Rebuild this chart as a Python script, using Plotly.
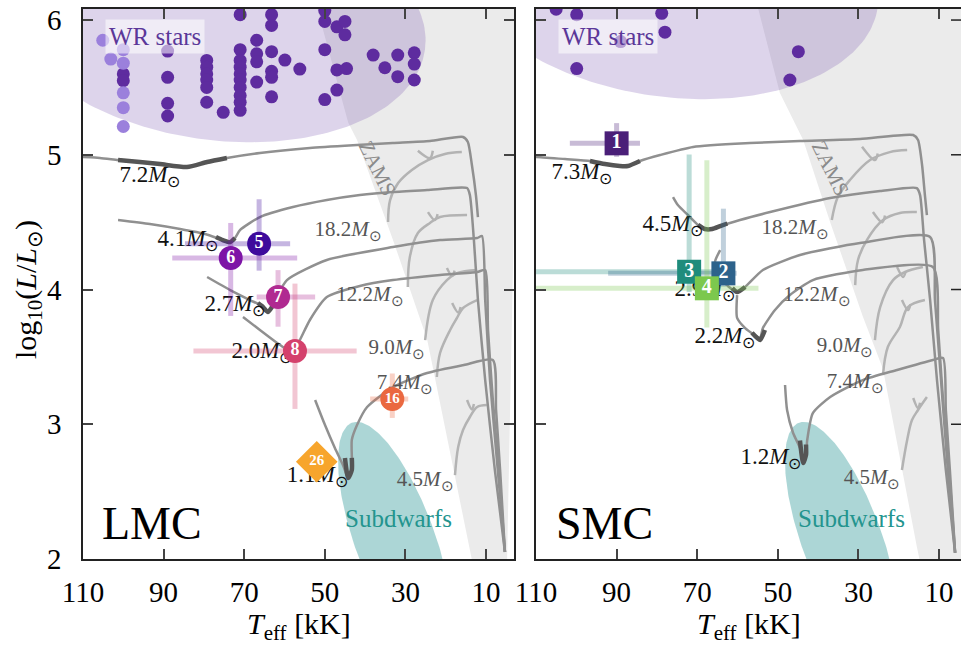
import numpy as np
import plotly.graph_objects as go

FONT = "Liberation Serif"

# ---------------- WR stars (Teff [kK], log L/Lsun) ----------------
lmc_wr_teff = [100.0, 100.0, 89.0, 89.0, 89.0, 89.0, 79.3, 79.3, 79.3, 79.3, 79.3, 79.3, 75.2,
               71.0, 71.0, 71.0, 71.0, 71.0, 71.0, 71.0, 71.0, 71.0, 71.0,
               66.9, 66.9, 66.9, 66.9, 63.2, 63.2, 63.2, 63.2, 63.2, 63.2, 59.9, 56.2,
               50.0, 50.0, 50.0, 50.0, 47.0, 47.0, 47.0, 45.0, 45.0, 44.6,
               38.0, 35.1, 31.9, 31.9, 27.8, 27.8, 27.8]
lmc_wr_logl = [5.60, 5.55, 5.77, 5.575, 5.382, 5.288, 5.70, 5.65, 5.60, 5.555, 5.50, 5.39, 5.315,
               6.04, 5.78, 5.70, 5.65, 5.60, 5.555, 5.50, 5.44, 5.39, 5.33,
               5.85, 5.75, 5.69, 5.54, 6.04, 5.96, 5.765, 5.62, 5.575, 5.43, 5.703, 5.636,
               6.07, 5.99, 5.78, 5.41, 5.95, 5.63, 5.48, 5.99, 5.89, 5.64,
               5.74, 5.646, 5.74, 5.58, 5.757, 5.673, 5.555]
lmc_wr_pale_teff = [105.1, 103.1, 100.0, 100.0, 100.0, 100.0, 100.0]
lmc_wr_pale_logl = [5.85, 5.71, 5.78, 5.68, 5.46, 5.35, 5.21]
smc_wr_teff = [105.0, 99.9, 78.8, 78.0, 99.9, 89.0, 44.9, 47.0]
smc_wr_logl = [6.08, 6.04, 6.05, 5.91, 5.64, 5.84, 5.765, 5.555]

# ---------------- Observed stripped stars ----------------
lmc_ids = ["5", "6", "7", "8", "16"]
lmc_teff = [66.3, 73.35, 61.6, 57.4, 33.25]
lmc_logl = [4.34, 4.234, 3.944, 3.544, 3.187]
lmc_teff_hot = [18.4, 14.5, 5.3, 25.2, 5.5]
lmc_teff_cool = [7.7, 16.5, 9.2, 15.3, 3.95]
lmc_logl_up = [0.33, 0.26, 0.20, 0.50, 0.19]
lmc_logl_down = [0.20, 0.43, 0.22, 0.43, 0.14]
lmc_colors = ["#3e0a9c", "#7d14a6", "#b02a91", "#d4416c", "#ea6840"]

lmc_diamond_id = ["26"]
lmc_diamond_teff = [52.0]
lmc_diamond_logl = [2.722]
lmc_diamond_err_t = [4.6]
lmc_diamond_err_l = [0.12]
lmc_diamond_color = "#f7a52c"

smc_ids = ["1", "3", "2", "4"]
smc_teff = [90.0, 72.0, 63.5, 67.6]
smc_logl = [5.085, 4.132, 4.12, 4.009]
smc_teff_hot = [11.6, 50.0, 28.6, 50.0]
smc_teff_cool = [5.8, 6.7, 3.3, 12.8]
smc_logl_up = [0.15, 0.87, 0.48, 0.95]
smc_logl_down = [0.10, 0.15, 0.10, 0.29]
smc_colors = ["#4a1f78", "#1f8c7c", "#2d628b", "#7cc84e"]

# ---------------- Binary stripping tracks ----------------
lmc_tracks = [
    ([112, 110.0, 105.8, 101.3, 95.9, 90.9, 84.2, 79.2, 74.3, 66.1, 53.7, 42.0, 33.1, 23.9, 15.7, 14.5, 13.5, 12.5, 12.0],
     [4.98, 4.983, 4.976, 4.961, 4.946, 4.931, 4.909, 4.946, 4.976, 5.013, 5.050, 5.072, 5.087, 5.102, 5.132, 5.095, 4.924, 4.701, 4.538]),
    ([101.3, 93.4, 85.9, 79.7, 75.3, 73.5, 72.3, 71.0, 66.1, 57.9, 49.5, 41.3, 33.1, 24.6, 14.7, 14.0, 13.0, 12.0, 10.2, 7.8, 5.3],
     [4.516, 4.486, 4.449, 4.412, 4.367, 4.352, 4.382, 4.442, 4.538, 4.612, 4.664, 4.701, 4.724, 4.738, 4.753, 4.701, 4.367, 3.922, 3.328, 2.660, 2.052]),
    ([79.2, 73.5, 68.6, 65.6, 64.1, 62.4, 59.4, 49.5, 33.1, 21.4, 12.2, 11.0, 10.2, 9.0, 7.3, 5.3],
     [4.093, 3.996, 3.922, 3.878, 3.833, 3.922, 4.070, 4.219, 4.315, 4.367, 4.382, 4.397, 3.922, 3.328, 2.735, 2.052]),
    ([70.3, 66.1, 61.1, 58.1, 56.2, 53.7, 49.5, 41.3, 33.1, 21.4, 12.2, 10.2, 9.5, 8.3, 6.8, 5.3],
     [3.796, 3.700, 3.588, 3.536, 3.625, 3.774, 3.944, 4.026, 4.070, 4.108, 4.130, 4.145, 3.700, 3.180, 2.660, 2.052]),
    ([52.4, 49.95, 47.5, 45.5, 44.2, 43.3, 43.3, 42.0, 39.5, 33.1, 24.6, 15.5, 8.3, 7.5, 6.5, 5.3],
     [3.180, 2.994, 2.824, 2.698, 2.601, 2.660, 2.883, 2.994, 3.128, 3.276, 3.380, 3.440, 3.477, 3.106, 2.660, 2.052]),
]
lmc_thick = [
    ([101.3, 95.9, 90.9, 84.2, 79.2, 74.3], [4.961, 4.946, 4.931, 4.909, 4.946, 4.976]),
    ([77.0, 75.3, 73.5, 72.3], [4.39, 4.367, 4.352, 4.382]),
    ([66.6, 65.6, 64.1, 62.9], [3.90, 3.878, 3.833, 3.88]),
    ([60.0, 58.1, 56.8], [3.55, 3.536, 3.58]),
    ([45.0, 44.2, 43.3, 43.3], [2.75, 2.601, 2.66, 2.75]),
]
smc_tracks = [
    ([112, 110, 102.8, 96.6, 92.9, 89.2, 87.2, 84.2, 79.2, 71.0, 56.9, 44.5, 29.6, 16.4, 15.2, 14.2, 13.5, 13.0],
     [4.98, 4.983, 4.968, 4.954, 4.931, 4.917, 4.917, 4.954, 4.998, 5.058, 5.087, 5.102, 5.117, 5.147, 5.110, 4.924, 4.701, 4.553]),
    ([76.0, 74.8, 72.3, 69.8, 68.1, 66.3, 64.3, 59.4, 51.9, 37.0, 24.6, 15.5, 14.7, 13.7, 12.2, 10.5, 8.3, 6.0],
     [4.686, 4.627, 4.553, 4.479, 4.449, 4.449, 4.471, 4.516, 4.575, 4.679, 4.731, 4.753, 4.701, 4.367, 3.922, 3.328, 2.660, 2.045]),
    ([64.3, 65.6, 64.8, 62.4, 60.1, 58.1, 53.7, 44.5, 29.6, 12.2, 11.0, 9.5, 7.8, 6.0],
     [4.293, 4.204, 4.108, 4.026, 3.981, 4.019, 4.145, 4.256, 4.345, 4.390, 3.922, 3.328, 2.660, 2.045]),
    ([60.1, 60.1, 58.1, 55.7, 54.4, 53.7, 50.7, 47.0, 41.3, 28.9, 11.5, 10.2, 9.0, 7.5, 6.0],
     [3.959, 3.789, 3.714, 3.662, 3.640, 3.714, 3.848, 3.959, 4.070, 4.145, 4.167, 3.700, 3.180, 2.660, 2.045]),
    ([48.2, 47.7, 46.2, 44.5, 43.7, 43.0, 42.7, 41.3, 37.0, 28.9, 20.4, 11.5, 9.0, 8.3, 7.3, 6.0],
     [3.291, 3.106, 2.935, 2.824, 2.712, 2.772, 2.883, 3.083, 3.202, 3.328, 3.403, 3.477, 3.492, 3.106, 2.660, 2.045]),
]
smc_thick = [
    ([96.6, 92.9, 89.2, 87.2, 84.2], [4.954, 4.931, 4.917, 4.917, 4.954]),
    ([69.8, 68.1, 66.3, 64.3, 62.5], [4.479, 4.449, 4.449, 4.471, 4.49]),
    ([61.3, 60.1, 58.1], [4.01, 3.981, 4.019]),
    ([56.4, 54.4, 53.2], [3.68, 3.626, 3.70]),
    ([44.5, 43.7, 43.0, 43.0], [2.88, 2.712, 2.772, 2.85]),
]

# ---------------- Single-star main-sequence tracks ----------------
lmc_ms = [
    ([34.3, 33.8, 31.8, 28.4, 24.4, 20.2, 16.0], [4.501, 4.664, 4.790, 4.887, 4.961, 5.006, 5.020]),
    ([29.4, 28.9, 26.9, 23.9, 21.4, 14.7], [4.019, 4.241, 4.419, 4.494, 4.538, 4.553]),
    ([25.1, 23.2, 19.7, 17.2, 12.2], [3.625, 3.922, 4.070, 4.122, 4.145]),
    ([22.2, 21.4, 18.9, 17.2, 15.7, 12.2], [3.351, 3.529, 3.700, 3.789, 3.863, 3.922]),
    ([17.7, 16.9, 15.7, 14.0, 12.2, 9.8], [2.623, 2.831, 2.957, 3.054, 3.128, 3.143]),
]
lmc_hooks = [
    ([26.9, 23.9, 23.2], [5.03, 4.976, 5.03]),
    ([24.4, 22.7, 22.0], [4.575, 4.516, 4.56]),
    ([19.7, 18.4, 17.8], [4.16, 4.10, 4.14]),
    ([18.4, 16.9, 16.3], [3.90, 3.83, 3.87]),
    ([14.7, 13.5, 13.0], [3.18, 3.11, 3.15]),
]
smc_ms = [
    ([36.6, 35.1, 32.1, 27.1, 22.2, 17.9], [4.516, 4.686, 4.813, 4.961, 5.020, 5.035]),
    ([30.8, 30.1, 27.9, 23.9, 19.7, 15.5], [4.033, 4.219, 4.367, 4.516, 4.568, 4.575]),
    ([25.9, 24.6, 21.4, 18.4, 14.0], [3.625, 3.870, 4.070, 4.130, 4.167]),
    ([23.9, 22.7, 19.7, 17.7, 13.5], [3.365, 3.573, 3.722, 3.870, 3.922]),
    ([19.2, 17.9, 16.7, 15.2, 13.0], [2.660, 2.883, 3.031, 3.106, 3.202]),
]
smc_hooks = [
    ([29.1, 25.9, 25.2], [5.06, 4.961, 5.01]),
    ([26.4, 24.1, 23.4], [4.575, 4.50, 4.55]),
    ([20.4, 18.9, 18.3], [4.167, 4.093, 4.13]),
    ([19.2, 17.7, 17.1], [3.922, 3.848, 3.89]),
    ([16.4, 15.2, 14.7], [3.195, 3.12, 3.16]),
]

# ---------------- Track labels ----------------
lmc_strip_labels = ["7.2", "4.1", "2.7", "2.0", "1.1"]
lmc_strip_lab_t = [93.4, 83.95, 72.3, 65.6, 51.9]
lmc_strip_lab_l = [4.842, 4.367, 3.885, 3.536, 2.616]
lmc_ms_labels = ["18.2", "12.2", "9.0", "7.4", "4.5"]
lmc_ms_lab_t = [44.2, 38.8, 32.1, 30.1, 25.1]
lmc_ms_lab_l = [4.434, 3.952, 3.558, 3.299, 2.579]
smc_strip_labels = ["7.3", "4.5", "2.9", "2.2", "1.2"]
smc_strip_lab_t = [98.6, 76.0, 68.1, 63.1, 51.7]
smc_strip_lab_l = [4.865, 4.479, 3.996, 3.647, 2.75]
smc_ms_labels = ["18.2", "12.2", "9.0", "7.4", "4.5"]
smc_ms_lab_t = [45.7, 40.3, 33.3, 30.8, 26.6]
smc_ms_lab_l = [4.449, 3.952, 3.573, 3.306, 2.594]

# ---------------- Shaded regions ----------------
lmc_zams_t = [52.0, 44.2, 42.0, 33.1, 24.6, 15.7, 13.2, 4.8, 2.0, 2.0]
lmc_zams_l = [6.1, 5.24, 5.11, 4.37, 3.63, 2.31, 1.95, 1.95, 6.1, 6.1]
smc_zams_t = [55.0, 49.5, 43.7, 37.0, 28.9, 23.9, 15.5, 14.5, 3.0, 3.0]
smc_zams_l = [6.1, 5.46, 5.11, 4.5, 3.8, 3.41, 2.09, 1.95, 1.95, 6.1]

TRACK = "#909090"
TRACK_DARK = "#555555"
MS = "#b3b3b3"


def ellipse(tc, lc, at, bt, al, bl, n=240):
    """Closed outline of an ellipse given as an affine map of the unit circle."""
    th = np.linspace(0, 2 * np.pi, n)
    return tc + at * np.cos(th) + bt * np.sin(th), lc + al * np.cos(th) + bl * np.sin(th)


fig = go.Figure()


def add_panel(xa, ya, zams, wr_center_l, sd_center_t, tracks, thick, ms, hooks,
              strip_lab, ms_lab, wr_main, wr_pale):
    ax = dict(xaxis=xa, yaxis=ya)
    # ZAMS band
    fig.add_trace(go.Scatter(x=zams[0], y=zams[1], fill="toself", mode="lines",
                             line=dict(width=0), fillcolor="#ebebeb", hoverinfo="skip", **ax))
    # WR region
    ex, ey = ellipse(77.25, wr_center_l, -52.1, 4.1, -0.22, -0.88)
    fig.add_trace(go.Scatter(x=ex, y=ey, fill="toself", mode="lines", line=dict(width=0),
                             fillcolor="rgba(125,90,178,0.26)", hoverinfo="skip", **ax))
    # subdwarf region
    sx, sy = ellipse(sd_center_t, 2.14, -10.6, 9.33, -0.872, -0.10)
    fig.add_trace(go.Scatter(x=sx, y=sy, fill="toself", mode="lines", line=dict(width=0),
                             fillcolor="rgba(70,165,165,0.45)", hoverinfo="skip", **ax))
    # single-star tracks
    for (t, l) in ms + hooks:
        fig.add_trace(go.Scatter(x=t, y=l, mode="lines", line=dict(color=MS, width=2.5, shape="spline"),
                                 hoverinfo="skip", **ax))
    # binary tracks
    for (t, l) in tracks:
        fig.add_trace(go.Scatter(x=t, y=l, mode="lines", line=dict(color=TRACK, width=2.5, shape="spline",
                                                                    smoothing=0.6),
                                 hoverinfo="skip", **ax))
    for (t, l) in thick:
        fig.add_trace(go.Scatter(x=t, y=l, mode="lines", line=dict(color=TRACK_DARK, width=4.5, shape="spline",
                                                                    smoothing=0.6),
                                 hoverinfo="skip", **ax))
    # mass labels
    names, lt, ll = strip_lab
    fig.add_trace(go.Scatter(x=lt, y=ll, mode="text",
                             text=[f"{m}<i>M</i><sub>⊙</sub>" for m in names],
                             textfont=dict(family=FONT, size=23, color="#111111"), hoverinfo="skip", **ax))
    names, lt, ll = ms_lab
    fig.add_trace(go.Scatter(x=lt, y=ll, mode="text",
                             text=[f"{m}<i>M</i><sub>⊙</sub>" for m in names],
                             textfont=dict(family=FONT, size=21, color="#555555"), hoverinfo="skip", **ax))
    # WR stars
    fig.add_trace(go.Scatter(x=wr_main[0], y=wr_main[1], mode="markers",
                             marker=dict(size=13, color="#5e2c9f"), hoverinfo="skip", **ax))
    if wr_pale is not None:
        fig.add_trace(go.Scatter(x=wr_pale[0], y=wr_pale[1], mode="markers",
                                 marker=dict(size=13, color="#9b80dc"), hoverinfo="skip", **ax))


add_panel("x", "y", (lmc_zams_t, lmc_zams_l), 6.0, 32.6, lmc_tracks, lmc_thick, lmc_ms, lmc_hooks,
          (lmc_strip_labels, lmc_strip_lab_t, lmc_strip_lab_l),
          (lmc_ms_labels, lmc_ms_lab_t, lmc_ms_lab_l),
          (lmc_wr_teff, lmc_wr_logl), (lmc_wr_pale_teff, lmc_wr_pale_logl))
add_panel("x2", "y2", (smc_zams_t, smc_zams_l), 6.32, 34.1, smc_tracks, smc_thick, smc_ms, smc_hooks,
          (smc_strip_labels, smc_strip_lab_t, smc_strip_lab_l),
          (smc_ms_labels, smc_ms_lab_t, smc_ms_lab_l),
          (smc_wr_teff, smc_wr_logl), None)


def rgba(hexcol, a):
    h = hexcol.lstrip("#")
    return f"rgba({int(h[0:2], 16)},{int(h[2:4], 16)},{int(h[4:6], 16)},{a})"


def add_stars(xa, ya, ids, t, l, thot, tcool, lup, ldown, colors, symbol, size, fsize):
    # error bars first so every symbol sits above every bar
    for i in range(len(ids)):
        fig.add_trace(go.Scatter(
            x=[t[i]], y=[l[i]], mode="markers", marker=dict(size=1, color="rgba(0,0,0,0)"),
            error_x=dict(type="data", symmetric=False, array=[thot[i]], arrayminus=[tcool[i]],
                         color=rgba(colors[i], 0.3), thickness=5, width=0),
            error_y=dict(type="data", symmetric=False, array=[lup[i]], arrayminus=[ldown[i]],
                         color=rgba(colors[i], 0.3), thickness=5, width=0),
            hoverinfo="skip", xaxis=xa, yaxis=ya))
    for i in range(len(ids)):
        fig.add_trace(go.Scatter(
            x=[t[i]], y=[l[i]], mode="markers+text", text=[ids[i]], textposition="middle center",
            textfont=dict(family=FONT, size=fsize if len(ids[i]) == 1 else fsize - 3, color="white",
                          weight="bold"),
            marker=dict(size=size, color=colors[i], symbol=symbol, line=dict(width=0)),
            hoverinfo="skip", xaxis=xa, yaxis=ya))


add_stars("x", "y", lmc_ids, lmc_teff, lmc_logl, lmc_teff_hot, lmc_teff_cool,
          lmc_logl_up, lmc_logl_down, lmc_colors, "circle", 24, 18)
add_stars("x", "y", lmc_diamond_id, lmc_diamond_teff, lmc_diamond_logl, lmc_diamond_err_t,
          lmc_diamond_err_t, lmc_diamond_err_l, lmc_diamond_err_l, [lmc_diamond_color], "diamond", 32, 18)
add_stars("x2", "y2", smc_ids, smc_teff, smc_logl, smc_teff_hot, smc_teff_cool,
          smc_logl_up, smc_logl_down, smc_colors, "square", 24, 20)

# ---------------- Layout ----------------
W, H = 961, 648
left_dom = [83 / W, 514 / W]
right_dom = [536 / W, 1.0]
ydom = [(H - 559) / H, (H - 9) / H]
tickfont = dict(family=FONT, size=29, color="black")
common_x = dict(tickmode="array", tickvals=[110, 90, 70, 50, 30, 10], ticks="inside", ticklen=10,
                tickwidth=1.5, showline=True, linecolor="#222", linewidth=1.5, showgrid=False,
                zeroline=False, tickfont=tickfont, ticklabelstandoff=6, automargin=False)
common_y = dict(range=[2, 6.082], tickmode="array", tickvals=[2, 3, 4, 5, 6], ticks="inside",
                ticklen=10, tickwidth=1.5, showline=True, linecolor="#222", linewidth=1.5,
                showgrid=False, zeroline=False, tickfont=tickfont, domain=ydom, automargin=False)

fig.update_layout(
    width=W, height=H, margin=dict(l=0, r=0, t=0, b=0, autoexpand=False),
    paper_bgcolor="white", plot_bgcolor="white", showlegend=False,
    xaxis=dict(domain=left_dom, range=[110, 110 - 431 / 4.03], anchor="y", mirror="ticks", **common_x),
    yaxis=dict(anchor="x", mirror="ticks", ticklabelstandoff=14, **common_y),
    xaxis2=dict(domain=right_dom, range=[110, 110 - 425 / 4.03], anchor="y2", mirror="ticks", **common_x),
    yaxis2=dict(anchor="x2", mirror=False, showticklabels=False, **common_y),
)

# tick stubs on the right edge of the SMC panel
for v in [3, 4, 5, 6]:
    fig.add_shape(type="line", xref="paper", yref="y2", x0=951 / W, x1=1.0, y0=v, y1=v,
                  line=dict(color="#222", width=1.5))

ann = []
for xa, ya, name in [("x", "y", "LMC"), ("x2", "y2", "SMC")]:
    ann.append(dict(x=92.9, y=2.265, xref=xa, yref=ya, text=name, showarrow=False,
                    font=dict(family=FONT, size=46, color="black")))
    ann.append(dict(x=92.1, y=5.88, xref=xa, yref=ya, text="WR stars", showarrow=False,
                    font=dict(family=FONT, size=25, color="#5b3799"),
                    bgcolor="rgba(255,255,255,0.55)", borderpad=3))
    ann.append(dict(x=31.6, y=2.30, xref=xa, yref=ya, text="Subdwarfs", showarrow=False,
                    font=dict(family=FONT, size=25, color="#23948e")))
    ann.append(dict(x=37.05, y=4.90, xref=xa, yref=ya, text="ZAMS", showarrow=False, textangle=64,
                    font=dict(family=FONT, size=21, color="#8a8a8a")))
for xc in [(left_dom[0] + left_dom[1]) / 2, 749 / W]:
    ann.append(dict(x=xc, y=(H - 626) / H, xref="paper", yref="paper", xanchor="center",
                    yanchor="middle", text="<i>T</i><sub>eff</sub> [kK]", showarrow=False,
                    font=dict(family=FONT, size=30, color="black")))
ann.append(dict(x=28 / W, y=(H - 290) / H, xref="paper", yref="paper", textangle=-90,
                xanchor="center", yanchor="middle",
                text="log<sub>10</sub>(<i>L</i>/<i>L</i><sub>⊙</sub>)", showarrow=False,
                font=dict(family=FONT, size=30, color="black")))
fig.update_layout(annotations=ann)

fig.write_html("out.html")
